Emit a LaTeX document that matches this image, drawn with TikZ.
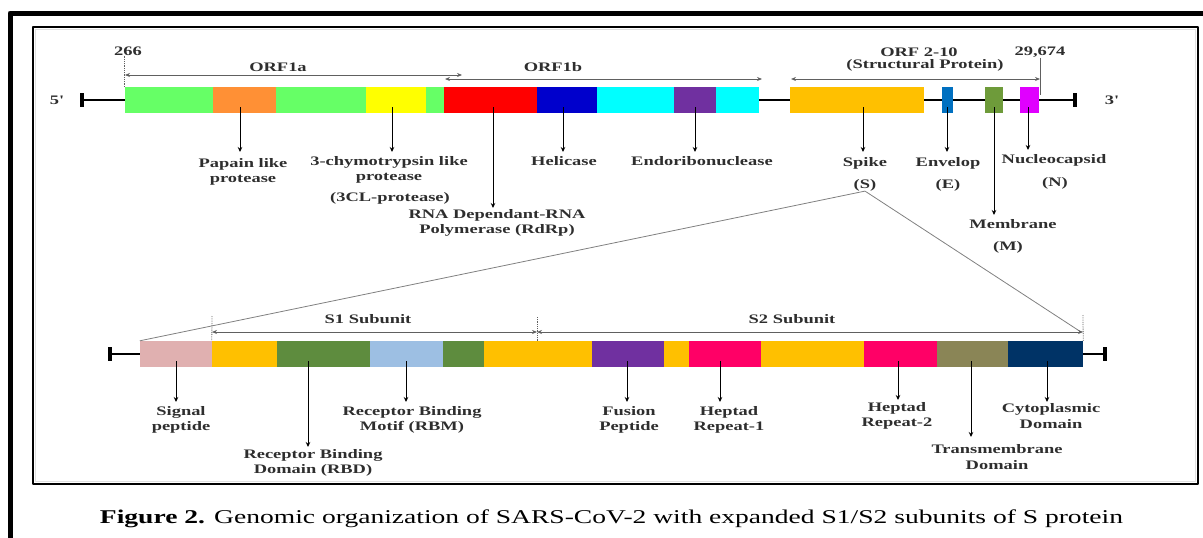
\documentclass[tikz,border=0pt]{standalone}
\usepackage{fontspec}
\usepackage{graphicx}
\setmainfont{Liberation Serif}
\newfontfamily\lblfont[FakeStretch=1.42]{Liberation Serif}
\usetikzlibrary{arrows.meta,calc}
\definecolor{lgreen}{HTML}{66FF66}
\definecolor{orng}{HTML}{FF9035}
\definecolor{yel}{HTML}{FFFF00}
\definecolor{rd}{HTML}{FF0000}
\definecolor{blu}{HTML}{0000CC}
\definecolor{cyn}{HTML}{00FFFF}
\definecolor{purp}{HTML}{7030A0}
\definecolor{goldc}{HTML}{FFC000}
\definecolor{envblue}{HTML}{0070C0}
\definecolor{memgreen}{HTML}{6E9B3A}
\definecolor{magen}{HTML}{E000FF}
\definecolor{pinkish}{HTML}{E0B0B0}
\definecolor{rbdgreen}{HTML}{5E8C3E}
\definecolor{rbmblue}{HTML}{9DBFE3}
\definecolor{crim}{HTML}{FF0066}
\definecolor{olivec}{HTML}{8A8556}
\definecolor{navyc}{HTML}{003366}
\definecolor{lblgray}{HTML}{2E2E2E}
\definecolor{dimgray}{HTML}{606060}
\tikzset{
  seg/.style={rectangle, inner sep=0pt, minimum height=26pt, draw=none},
  lbl/.style={font=\lblfont\bfseries\fontsize{13}{15.5}\selectfont, text=lblgray, align=center, inner sep=0pt},
  pointer/.style={draw=black, line width=0.9pt, -{Stealth[length=5pt,width=4.5pt]}},
  dimarrow/.style={draw=dimgray, line width=0.8pt, {Stealth[length=5pt,width=4pt]}-{Stealth[length=5pt,width=4pt]}},
  backbone/.style={draw=black, line width=2.4pt},
  endbar/.style={rectangle, fill=black, minimum width=4pt, minimum height=14pt, inner sep=0pt},
  tickline/.style={draw=dimgray, line width=0.8pt, densely dotted},
  zoomline/.style={draw=gray, line width=0.8pt}
}
\newcommand\segbox[5]{\node[seg, fill=#5, minimum width={(#3-#2)*1pt}] (#1) at ({(#2+#3)/2},#4) {};}
\newcommand\pointto[3]{\coordinate (#2) at #3; \draw[pointer] ($(#1.south -| #2)+(0,-6)$) -- (#2);}
\begin{document}
\begin{tikzpicture}[x=1pt,y=-1pt,line join=round]
\useasboundingbox (0,0) rectangle (1203,538);
% frames
\draw[line width=5pt] (10,538) -- (10,13) -- (1203,13);
\draw[line width=1.5pt, black!12] (35.5,29.5) rectangle (1195.5,481.5);
\draw[line width=1.6pt] (33,27) rectangle (1198,484);

% ===== top genome =====
\coordinate (g5) at (82,100);
\coordinate (g3) at (1075,100);
\draw[backbone] (g5) -- (g3);
\node[endbar] (bar5) at (g5) {};
\node[endbar] (bar3) at (g3) {};
\segbox{ga}{125}{213}{100}{lgreen}
\segbox{orange}{213}{276}{100}{orng}
\segbox{gb}{276}{366}{100}{lgreen}
\segbox{yellow}{366}{426}{100}{yel}
\segbox{gc}{426}{444}{100}{lgreen}
\segbox{red}{444}{537}{100}{rd}
\segbox{blue}{537}{597}{100}{blu}
\segbox{cyana}{597}{674}{100}{cyn}
\segbox{purple}{674}{716}{100}{purp}
\segbox{cyanb}{716}{759}{100}{cyn}
\segbox{spike}{790}{924}{100}{goldc}
\segbox{env}{942}{953}{100}{envblue}
\segbox{mem}{985}{1003}{100}{memgreen}
\segbox{nuc}{1020}{1039}{100}{magen}

\node[lbl] (five) at (57,100) {5'};
\node[lbl] (three) at (1112,100) {3'};
\node[lbl] (n266) at (128,51) {266};
\node[lbl] (n29674) at (1040,52) {29,674};
\draw[tickline] (n266.south -| ga.west) -- (ga.north west);
\draw[draw=dimgray, line width=0.7pt] (n29674.south) -- (1040,95);

\node[lbl] (orf1a) at (278,67) {ORF1a};
\node[lbl] (orf1b) at (553,67) {ORF1b};
\node[lbl] (orf210) at (919,52) {ORF 2-10};
\node[lbl] (struct) at (925,65) {(Structural Protein)};
\coordinate (o1a-l) at (125,75); \coordinate (o1a-r) at (462,75);
\coordinate (o1b-l) at (445,79); \coordinate (o1b-r) at (762,79);
\coordinate (o2-l) at (791,79); \coordinate (o2-r) at (1040,79);
\draw[dimarrow] (o1a-l) -- (o1a-r);
\draw[dimarrow] (o1b-l) -- (o1b-r);
\draw[dimarrow] (o2-l) -- (o2-r);

% labels top
\node[lbl] (lpap) at (243,172) {Papain like\\protease};
\node[lbl] (lchy) at (389,170) {3-chymotrypsin like\\protease};
\node[lbl] (l3cl) at (390,198) {(3CL-protease)};
\node[lbl] (lrdrp) at (497,223) {RNA Dependant-RNA\\Polymerase (RdRp)};
\node[lbl] (lhel) at (564,161) {Helicase};
\node[lbl] (lendo) at (702,161) {Endoribonuclease};
\node[lbl] (lspike) at (865,163) {Spike};
\node[lbl] (lS) at (865,185) {(S)};
\node[lbl] (lenv) at (948,163) {Envelop};
\node[lbl] (lE) at (948,185) {(E)};
\node[lbl] (lnuc) at (1054,160) {Nucleocapsid};
\node[lbl] (lN) at (1055,183) {(N)};
\node[lbl] (lmem) at (1013,224) {Membrane};
\node[lbl] (lM) at (1008,247) {(M)};

\pointto{orange}{tpap}{(240,152)}
\pointto{yellow}{tchy}{(392,152)}
\pointto{red}{trdrp}{(493,208)}
\pointto{blue}{thel}{(563,152)}
\pointto{purple}{tendo}{(695,152)}
\pointto{spike}{tspike}{(863,152)}
\pointto{env}{tenv}{(947,152)}
\pointto{nuc}{tnuc}{(1028,150)}
\pointto{mem}{tmem}{(994,215)}

% ===== bottom S protein =====
\coordinate (s5) at (110,354);
\coordinate (s3) at (1105,354);
\draw[backbone] (s5) -- (s3);
\node[endbar] (sbar5) at (s5) {};
\node[endbar] (sbar3) at (s3) {};
\segbox{sp}{140}{212}{354}{pinkish}
\segbox{ba}{212}{277}{354}{goldc}
\segbox{rbda}{277}{370}{354}{rbdgreen}
\segbox{rbm}{370}{443}{354}{rbmblue}
\segbox{rbdb}{443}{484}{354}{rbdgreen}
\segbox{bb}{484}{592}{354}{goldc}
\segbox{fp}{592}{664}{354}{purp}
\segbox{bc}{664}{689}{354}{goldc}
\segbox{hra}{689}{761}{354}{crim}
\segbox{bd}{761}{864}{354}{goldc}
\segbox{hrb}{864}{937}{354}{crim}
\segbox{tm}{937}{1008}{354}{olivec}
\segbox{cd}{1008}{1083}{354}{navyc}

% zoom lines from (S)
\coordinate (zr) at (1081,332);
\draw[zoomline] (lS.south) -- (sp.north west);
\draw[zoomline] (lS.south) -- (zr);

% S1 / S2
\node[lbl] (s1) at (368,319) {S1 Subunit};
\node[lbl] (s2) at (792,319) {S2 Subunit};
\coordinate (s1l) at (212,332); \coordinate (s1r) at (537,332);
\coordinate (s2r) at (1083,332);
\draw[dimarrow] (s1l) -- (s1r);
\draw[dimarrow] (s1r) -- (s2r);
\draw[tickline] (212,316) -- (ba.north west);
\draw[tickline] (537,317) -- (537,342);
\draw[tickline] (1083,315) -- (cd.north east);

% labels bottom
\node[lbl] (lsp) at (181,420) {Signal\\peptide};
\node[lbl] (lrbd) at (313,463) {Receptor Binding\\Domain (RBD)};
\node[lbl] (lrbm) at (412,420) {Receptor Binding\\Motif (RBM)};
\node[lbl] (lfp) at (629,420) {Fusion\\Peptide};
\node[lbl] (lhra) at (729,420) {Heptad\\Repeat-1};
\node[lbl] (lhrb) at (897,416) {Heptad\\Repeat-2};
\node[lbl] (ltm) at (997,457) {Transmembrane\\Domain};
\node[lbl] (lcd) at (1051,416) {Cytoplasmic\\Domain};

\pointto{sp}{tsp}{(176,402)}
\pointto{rbda}{trbd}{(308,447)}
\pointto{rbm}{trbm}{(406,402)}
\pointto{fp}{tfp}{(627,402)}
\pointto{hra}{thra}{(720,402)}
\pointto{hrb}{thrb}{(898,400)}
\pointto{tm}{ttm}{(971,437)}
\pointto{cd}{tcd}{(1047,402)}

% caption
\node[anchor=base, inner sep=0pt] (caption) at (611.5,523) {\resizebox{1023pt}{\height}{\fontsize{19.5}{22}\selectfont\textbf{Figure 2.} Genomic organization of SARS-CoV-2 with expanded S1/S2 subunits of S protein}};
\end{tikzpicture}
\end{document}
